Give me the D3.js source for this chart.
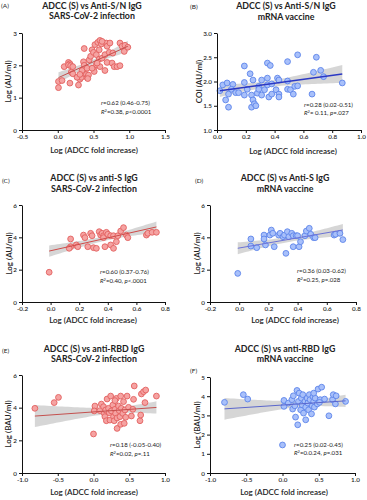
<!DOCTYPE html>
<html><head><meta charset="utf-8">
<script src="https://cdn.jsdelivr.net/npm/d3@7"></script>
<style>
html,body{margin:0;padding:0;background:#fff;}
svg text{font-family:Lato,"Open Sans",sans-serif;fill:#222;}
</style></head>
<body><svg id="c" width="367" height="500"></svg>
<script>
// ---------- data ----------
const aX=[0.01,0.01,0.06,0.09,0.15,0.17,0.15,0.18,0.19,0.17,0.21,0.21,0.29,0.31,0.32,0.33,0.36,0.37,0.36,0.37,0.40,0.41,0.43,0.42,0.44,0.46,0.48,0.50,0.50,0.51,0.54,0.54,0.52,0.56,0.59,0.61,0.58,0.58,0.59,0.62,0.66,0.68,0.69,0.73,0.72,0.69,0.66,0.76,0.77,0.79,0.83,0.87,0.87,0.90,0.93,0.94,0.98,0.62,0.27,0.34,0.41,0.48,0.55,0.31];
const aY=[1.50,1.31,1.53,1.96,2.09,2.05,2.01,1.99,1.79,1.45,1.96,1.74,1.39,1.57,1.69,1.63,1.76,2.52,2.11,2.00,1.72,1.62,1.70,1.59,2.17,2.28,2.48,2.40,1.91,1.81,2.33,2.02,2.64,2.71,2.77,2.66,2.48,2.19,1.96,2.22,2.33,2.69,2.59,2.69,2.40,2.09,1.84,2.07,2.38,1.96,1.96,1.99,2.69,2.59,2.43,2.62,2.56,2.74,1.63,1.84,1.91,1.91,2.07,1.72];
const bX=[0.02,0.04,0.07,0.11,0.06,0.08,0.08,0.10,0.13,0.19,0.15,0.23,0.19,0.19,0.25,0.21,0.24,0.24,0.25,0.26,0.27,0.28,0.29,0.29,0.31,0.31,0.33,0.35,0.37,0.35,0.35,0.38,0.36,0.38,0.41,0.42,0.43,0.43,0.43,0.49,0.49,0.49,0.51,0.53,0.54,0.56,0.56,0.66,0.67,0.69,0.72,0.74,0.87];
const bY=[1.81,1.93,1.97,1.94,1.62,1.74,1.47,1.84,1.77,2.32,1.77,2.16,1.98,1.72,2.03,1.84,1.72,1.47,1.62,1.54,1.50,1.76,1.90,1.84,2.03,1.72,1.83,2.38,2.33,2.07,1.93,1.95,1.68,1.74,1.83,2.07,2.03,1.74,1.68,2.01,1.84,2.41,1.83,1.74,1.90,1.91,2.55,1.74,2.19,2.50,2.23,2.10,1.97];
const cX=[-0.01,0.14,0.14,0.13,0.18,0.19,0.23,0.24,0.26,0.28,0.29,0.30,0.32,0.34,0.35,0.36,0.37,0.37,0.38,0.39,0.40,0.42,0.42,0.44,0.44,0.46,0.47,0.49,0.51,0.53,0.54,0.67,0.68,0.71,0.74];
const cY=[1.84,3.42,3.90,3.32,3.53,3.42,4.14,3.98,3.42,4.25,4.10,3.36,3.32,4.35,4.14,4.25,4.10,3.98,3.42,4.31,4.19,3.53,4.10,3.32,4.10,3.73,4.10,4.39,4.60,4.14,3.98,4.14,4.25,4.31,4.31];
const dX=[-0.01,0.08,0.08,0.12,0.17,0.17,0.18,0.21,0.22,0.23,0.24,0.27,0.28,0.30,0.31,0.32,0.33,0.34,0.36,0.37,0.37,0.39,0.40,0.41,0.42,0.45,0.46,0.48,0.49,0.51,0.52,0.65,0.66,0.69,0.71];
const dY=[1.77,3.90,3.46,3.36,4.14,3.90,3.53,4.14,4.45,4.25,3.42,4.14,4.25,4.04,4.14,3.01,4.35,4.04,4.25,4.10,3.42,4.10,4.10,3.42,3.73,4.10,4.39,4.56,4.19,3.98,3.98,4.14,4.19,4.25,3.86];
const eX=[-0.82,-0.55,-0.49,0.00,0.02,0.01,0.09,0.11,0.14,0.15,0.16,0.17,0.18,0.19,0.21,0.22,0.23,0.24,0.25,0.27,0.28,0.29,0.30,0.31,0.32,0.33,0.33,0.35,0.36,0.37,0.38,0.38,0.39,0.41,0.42,0.43,0.44,0.45,0.47,0.49,0.53,0.55,0.56,0.57,0.65,0.66,0.67,0.70,0.73,0.72,0.88,0.30];
const eY=[3.96,4.31,4.63,2.39,4.10,3.80,3.82,4.22,4.06,3.65,3.45,3.86,3.20,4.53,3.96,3.69,3.24,4.71,3.80,4.16,3.45,3.20,3.90,3.65,4.57,3.37,2.73,4.10,3.82,3.45,4.71,2.98,3.96,3.65,4.37,3.04,3.86,3.41,4.71,4.02,3.49,3.90,4.51,5.33,3.20,3.55,4.84,4.98,5.08,4.31,4.71,4.43];
const fX=[-0.80,-0.54,-0.48,0.00,0.02,0.02,0.08,0.13,0.14,0.15,0.17,0.18,0.20,0.21,0.22,0.23,0.25,0.26,0.27,0.28,0.29,0.31,0.32,0.32,0.34,0.35,0.36,0.37,0.38,0.40,0.41,0.42,0.43,0.44,0.45,0.48,0.49,0.52,0.54,0.58,0.64,0.69,0.70,0.73,0.74,0.87,0.43,0.51];
const fY=[3.68,4.08,3.85,1.46,3.78,3.47,3.64,3.82,3.33,4.02,3.50,2.91,4.30,2.51,3.73,4.16,3.29,3.90,3.55,4.08,3.12,3.73,2.77,3.43,3.90,3.64,3.29,4.08,3.82,3.08,3.50,3.97,3.73,3.43,3.90,3.60,4.37,3.82,4.47,3.85,2.98,3.82,4.08,3.60,4.02,3.73,4.16,3.68];

// fitted lines: [intercept, slope]
const fitIntercepts=[1.61,1.80,3.17,3.34,3.74,3.54];
const fitSlopes=[1.00,0.41,1.99,1.57,0.31,0.25];

const titles=[
  ["ADCC (S) vs Anti-S/N IgG","SARS-CoV-2 infection"],
  ["ADCC (S) vs Anti-S/N IgG","mRNA vaccine"],
  ["ADCC (S) vs anti-S IgG","SARS-CoV-2 infection"],
  ["ADCC (S) vs Anti-S IgG","mRNA vaccine"],
  ["ADCC (S) vs anti-RBD IgG","SARS-CoV-2 infection"],
  ["ADCC (S) vs anti-RBD IgG","mRNA vaccine"]];
const panelLabels=["(A)","(B)","(C)","(D)","(E)","(F)"];
const yLabels=["Log (AU/ml)","COI (AU/ml)","Log (AU/ml)","Log (AU/ml)","Log (BAU/ml)","Log (BAU/ml)"];
const xLabel="Log (ADCC fold increase)";
const statR=["r=0.62 (0.46-0.75)","r=0.28 (0.02-0.51)","r=0.60 (0.37-0.76)","r=0.36 (0.03-0.62)","r=0.18 (-0.05-0.40)","r=0.25 (0.02-0.45)"];
const statR2=[["0.38",", ","p<0.0001"],["= 0.11",", ","p=.027"],["0.40",", ","p<.0001"],["0.25",", ","p=.028"],["0.02",", ","p=.11"],["0.0.24",", ","p=.031"]];
const xTicksA=[-0.5,0,0.5,1,1.5], yTicksA=[0,1,2,3];
const xTicksB=[0,0.2,0.4,0.6,0.8,1], yTicksB=[1,1.5,2,2.5,3];
const xTicksC=[-0.2,0,0.2,0.4,0.6,0.8], yTicksC=[0,2,4,6];
const xTicksE=[-1,-0.5,0,0.5,1], yTicksE=[0,2,4,6], yTicksF=[0,1,2,3,4,5];

// ---------- layout ----------
const red={fill:"#f5a3a2",stroke:"#e2605f"}, blue={fill:"#a8c0fa",stroke:"#5d84ea"};
const P=[
 {xs:aX,ys:aY,xd:[-0.5,1.5],yd:[0,3],xr:[22,165],yr:[130,33],xt:xTicksA,yt:yTicksA,xf:".1f",yf:"d",col:red,line:"#c4504e",lw:1,
  lab:[1,8],tt:[92,9,18.5],yl:5,xl:[94,153],st:[101,105,114]},
 {xs:bX,ys:bY,xd:[0,1],yd:[1,3],xr:[217,361],yr:[130,33],xt:xTicksB,yt:yTicksB,xf:".1f",yf:".1f",col:blue,line:"#2b38c4",lw:1.5,
  lab:[190,8.5],tt:[286,9,19.5],yl:196,xl:[293,154],st:[304,107,115]},
 {xs:cX,ys:cY,xd:[-0.2,0.8],yd:[0,6],xr:[22,165],yr:[302,205],xt:xTicksC,yt:yTicksC,xf:".1f",yf:"d",col:red,line:"#d04a48",lw:1,
  lab:[2,182.5],tt:[94,181,191.5],yl:6,xl:[93,323],st:[100,274,283]},
 {xs:dX,ys:dY,xd:[-0.2,0.8],yd:[0,6],xr:[210,356],yr:[302,205],xt:xTicksC,yt:yTicksC,xf:".1f",yf:"d",col:blue,line:"#6b72d6",lw:1,
  lab:[195,182.5],tt:[285,181,191.5],yl:194,xl:[295,323],st:[297,273,282]},
 {xs:eX,ys:eY,xd:[-1,1],yd:[0,6],xr:[22,165],yr:[473,375],xt:xTicksE,yt:yTicksE,xf:".1f",yf:"d",col:red,line:"#c4504e",lw:1,
  lab:[2,353],tt:[94,352,362],yl:5,xl:[94,495],st:[110,447,456]},
 {xs:fX,ys:fY,xd:[-1,1],yd:[0,5],xr:[210,355],yr:[473,377],xt:xTicksE,yt:yTicksF,xf:".1f",yf:"d",col:blue,line:"#5a66cc",lw:1,
  lab:[190,373],tt:[285,351.5,362],yl:194,xl:[284,495],st:[294,447,455]}
];

const svg=d3.select("#c");
const fixMinus=s=>s.replace("\u2212","-");

P.forEach((p,i)=>{
  const g=svg.append("g");
  const x=d3.scaleLinear().domain(p.xd).range(p.xr);
  const y=d3.scaleLinear().domain(p.yd).range(p.yr);

  // fitted line + 95% confidence band around it
  const a=fitIntercepts[i], b=fitSlopes[i];
  const n=p.xs.length, mx=d3.mean(p.xs);
  let sxx=0; p.xs.forEach(v=>{sxx+=(v-mx)*(v-mx);});
  let sse=0; p.xs.forEach((v,k)=>{const r=p.ys[k]-(a+b*v); sse+=r*r;});
  const s=Math.sqrt(sse/(n-2)), t=2.0;
  const [lo,hi]=d3.extent(p.xs);
  const grid=d3.range(0,41).map(k=>lo+(hi-lo)*k/40);
  const band=grid.map(v=>{const yh=a+b*v, se=s*Math.sqrt(1/n+(v-mx)*(v-mx)/sxx)*t; return {x:v,y0:yh-se,y1:yh+se};});
  g.append("path").datum(band).attr("fill","#cfcfcf").attr("opacity",0.85)
    .attr("d",d3.area().x(d=>x(d.x)).y0(d=>y(d.y0)).y1(d=>y(d.y1)));

  // points
  g.selectAll("circle").data(p.xs.map((v,k)=>[v,p.ys[k]])).join("circle")
    .attr("cx",d=>x(d[0])).attr("cy",d=>y(d[1])).attr("r",2.9)
    .attr("fill",p.col.fill).attr("stroke",p.col.stroke).attr("stroke-width",0.9);

  g.append("line").attr("x1",x(lo)).attr("x2",x(hi)).attr("y1",y(a+b*lo)).attr("y2",y(a+b*hi))
    .attr("stroke",p.line).attr("stroke-width",p.lw);

  // axes
  const xa=d3.axisBottom(x).tickValues(p.xt).tickSize(3).tickSizeOuter(0).tickPadding(2).tickFormat(v=>fixMinus(d3.format(p.xf)(v)));
  const ya=d3.axisLeft(y).tickValues(p.yt).tickSize(3).tickSizeOuter(0).tickPadding(2).tickFormat(v=>fixMinus(d3.format(p.yf)(v)));
  [g.append("g").attr("transform",`translate(0,${p.yr[0]})`).call(xa),
   g.append("g").attr("transform",`translate(${p.xr[0]},0)`).call(ya)].forEach(ax=>{
     ax.select(".domain").attr("stroke","#111").attr("stroke-width",1);
     ax.selectAll(".tick line").attr("stroke","#111");
     ax.selectAll("text").attr("font-size",6.3).attr("font-weight",600).style("font-family","Lato,sans-serif");
  });

  // texts
  svg.append("text").attr("x",p.lab[0]).attr("y",p.lab[1]).attr("font-size",6.5).text(panelLabels[i]);
  svg.append("text").attr("x",p.tt[0]).attr("y",p.tt[1]).attr("text-anchor","middle").attr("font-size",8.8).attr("font-weight",700).text(titles[i][0]);
  svg.append("text").attr("x",p.tt[0]).attr("y",p.tt[2]).attr("text-anchor","middle").attr("font-size",8.8).attr("font-weight",700).text(titles[i][1]);
  svg.append("text").attr("transform",`translate(${p.yl},${(p.yr[0]+p.yr[1])/2}) rotate(-90)`).attr("dy","0.7em")
    .attr("text-anchor","middle").attr("font-size",8).attr("font-weight",600).text(yLabels[i]);
  svg.append("text").attr("x",p.xl[0]).attr("y",p.xl[1]).attr("text-anchor","middle").attr("font-size",8).attr("font-weight",600).text(xLabel);

  const t1=svg.append("text").attr("x",p.st[0]).attr("y",p.st[1]).attr("font-size",6.1);
  t1.append("tspan").attr("font-style","italic").text("r");
  t1.append("tspan").text(statR[i].slice(1));
  const t2=svg.append("text").attr("x",p.st[0]).attr("y",p.st[2]).attr("font-size",6.1);
  t2.append("tspan").attr("font-style","italic").text("R");
  t2.append("tspan").attr("font-size",4).attr("dy",-2.2).text("2");
  t2.append("tspan").attr("dy",2.2).text((statR2[i][0].startsWith("=")?"":"=")+statR2[i][0]+statR2[i][1]);
  t2.append("tspan").attr("font-style","italic").text(statR2[i][2].slice(0,1));
  t2.append("tspan").text(statR2[i][2].slice(1));
});
</script></body></html>
